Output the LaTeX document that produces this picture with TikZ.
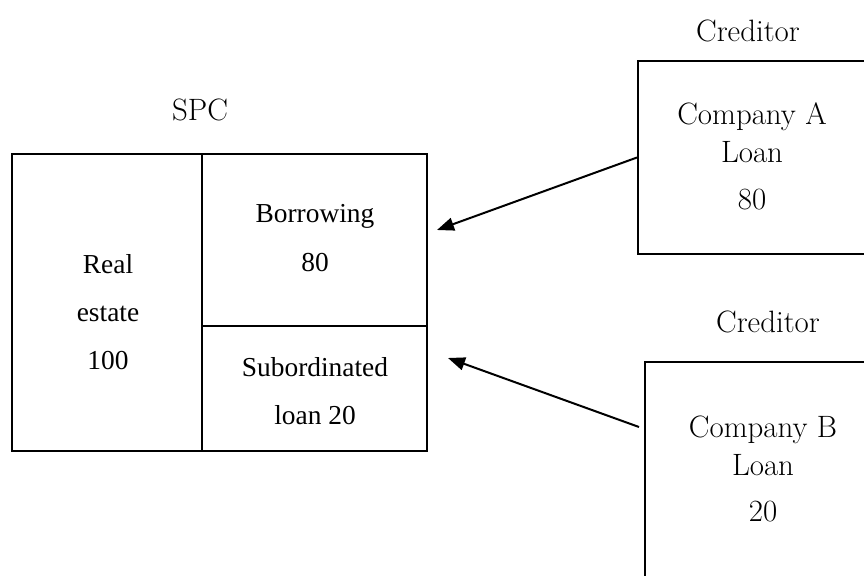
\documentclass[tikz,border=0pt]{standalone}
\usepackage{fontspec}
\newfontfamily\timesf{Liberation Serif}
\usetikzlibrary{arrows.meta}
\tikzset{
  cell/.style={draw, line width=2bp, inner sep=0pt},
  celltext/.style={inner sep=0pt, align=center,
    font=\timesf\fontsize{27.5}{48.5}\selectfont},
  credbox/.style={draw, line width=2bp, inner sep=0pt},
  credtext/.style={inner sep=0pt, align=center,
    font=\fontsize{31}{38}\selectfont},
  lbl/.style={inner sep=0pt, font=\fontsize{31}{36}\selectfont},
  arr/.style={line width=2bp, -{Triangle[length=17bp,width=13bp]}}
}
\begin{document}
\begin{tikzpicture}[x=1bp,y=-1bp]
\useasboundingbox (0,0) rectangle (864,576);
\clip (0,0) rectangle (864,576);
\fill[white] (0,0) rectangle (864,576);
% SPC balance sheet
\node[cell, minimum width=190bp, minimum height=297bp] (re) at (107,302.5) {};
\node[cell, minimum width=225bp, minimum height=172bp] (bor) at (314.5,240) {};
\node[cell, minimum width=225bp, minimum height=125bp] (sub) at (314.5,388.5) {};
\node[celltext] (reT) at (108,312) {Real\\estate\\100};
\node[celltext] (borT) at (315,238) {Borrowing\\80};
\node[celltext] (subT) at (315,391) {Subordinated\\loan 20};
\node[lbl] (spc) at (200,110) {SPC};
% creditors
\node[lbl] (credA) at (748,31) {Creditor};
\node[credbox, minimum width=228bp, minimum height=193bp] (compA) at (752,157.5) {};
\node[credtext] (compAT) at (752,156) {Company A\\Loan\\[9bp]80};
\node[lbl] (credB) at (768,322) {Creditor};
\node[credbox, minimum width=236bp, minimum height=216bp] (compB) at (763,470) {};
\node[credtext] (compBT) at (763,469) {Company B\\Loan\\[8bp]20};
% arrows
\coordinate (tipA) at (437,230);
\coordinate (tailB) at (639,427);
\coordinate (tipB) at (448,358);
\draw[arr] (compA.west) -- (tipA);
\draw[arr] (tailB) -- (tipB);
\end{tikzpicture}
\end{document}
